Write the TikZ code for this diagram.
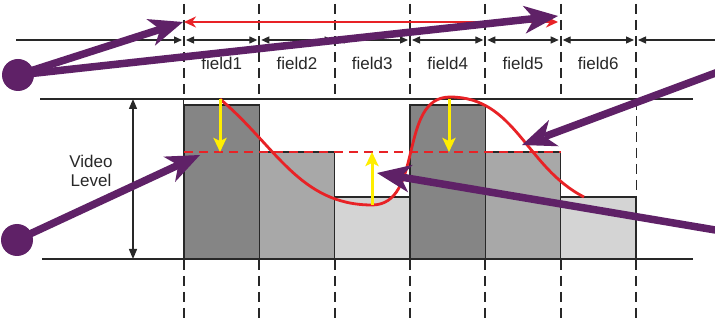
\documentclass[tikz,border=0pt]{standalone}
\usepackage{fontspec}
\setmainfont{Liberation Sans}
\usetikzlibrary{arrows.meta}

\definecolor{vlpurple}{RGB}{95,33,103}
\definecolor{vlred}{RGB}{232,34,38}
\definecolor{vlyellow}{RGB}{255,238,0}
\definecolor{bardark}{RGB}{133,133,133}
\definecolor{barmid}{RGB}{168,168,168}
\definecolor{barlight}{RGB}{212,212,212}
\definecolor{gridline}{RGB}{40,40,40}

\tikzset{
    dimtip/.tip={Triangle[length=8pt, width=7pt]},
    leveltip/.tip={Triangle[length=10pt, width=8pt]}
}

\begin{document}
\begin{tikzpicture}[
    x=1pt, y=1pt,
    fieldtext/.style={font=\fontsize{17}{19}\selectfont, text=gridline, inner sep=0pt, align=center},
    bar/.style={draw=gridline, line width=1.3pt},
    guide/.style={gridline, line width=1.7pt, dash pattern=on 10pt off 6pt},
    level/.style={gridline, line width=1.6pt},
    dim/.style={gridline, line width=1.3pt},
    yarrow/.style={vlyellow, line width=3pt, -{Stealth[length=14pt, width=13pt, inset=3pt]}},
    callout/.style={vlpurple, line width=7.5pt, -{Stealth[length=34pt, width=28pt, inset=10pt, line width=0pt]}},
    calloutdot/.style={circle, fill=vlpurple, minimum size=32pt, inner sep=0pt}
]
\useasboundingbox[fill=white] (0,0) rectangle (715,324);

% field edges on the dimension line
\coordinate (t0) at (184,284);
\coordinate (t1) at (259.3,284);
\coordinate (t2) at (334.7,284);
\coordinate (t3) at (410,284);
\coordinate (t4) at (485.3,284);
\coordinate (t5) at (560.7,284);
\coordinate (t6) at (636,284);
\coordinate (tl) at (16,284);
\coordinate (tr) at (715,284);

% dashed field boundaries
\draw[guide] (184,320) -- (184,4);
\draw[guide] (259.3,320) -- (259.3,4);
\draw[guide] (334.7,320) -- (334.7,4);
\draw[guide] (410,320) -- (410,4);
\draw[guide] (485.3,320) -- (485.3,4);
\draw[guide] (560.7,320) -- (560.7,4);
\draw[guide] (636,320) -- (636,4);

% video level bars
\fill[white] (184,225) rectangle (636,65);
\draw[bar, fill=bardark] (184,219) rectangle (259.3,65);
\draw[bar, fill=barmid] (259.3,172) rectangle (334.7,65);
\draw[bar, fill=barlight] (334.7,127) rectangle (410,65);
\draw[bar, fill=bardark] (410,219) rectangle (485.3,65);
\draw[bar, fill=barmid] (485.3,172) rectangle (560.7,65);
\draw[bar, fill=barlight] (560.7,127) rectangle (636,65);

\draw[level] (40,225) -- (693,225);
\draw[level] (42,65) -- (693,65);

% field widths
\draw[dim, -{dimtip}, shorten >=2pt] (tl) -- (t0);
\draw[dim, {dimtip}-{dimtip}, shorten >=2pt, shorten <=2pt] (t0) -- (t1);
\draw[dim, {dimtip}-{dimtip}, shorten >=2pt, shorten <=2pt] (t1) -- (t2);
\draw[dim, {dimtip}-{dimtip}, shorten >=2pt, shorten <=2pt] (t2) -- (t3);
\draw[dim, {dimtip}-{dimtip}, shorten >=2pt, shorten <=2pt] (t3) -- (t4);
\draw[dim, {dimtip}-{dimtip}, shorten >=2pt, shorten <=2pt] (t4) -- (t5);
\draw[dim, {dimtip}-{dimtip}, shorten >=2pt, shorten <=2pt] (t5) -- (t6);
\draw[dim, {dimtip}-, shorten <=2pt] (t6) -- (tr);

\node[fieldtext, anchor=base] (f1) at (221.7,254) {field1};
\node[fieldtext, anchor=base] (f2) at (297,254) {field2};
\node[fieldtext, anchor=base] (f3) at (372.3,254) {field3};
\node[fieldtext, anchor=base] (f4) at (447.7,254) {field4};
\node[fieldtext, anchor=base] (f5) at (523,254) {field5};
\node[fieldtext, anchor=base] (f6) at (598.3,254) {field6};

% video level range
\coordinate (lvtop) at (133,225);
\coordinate (lvbot) at (133,65);
\draw[dim, {leveltip}-{leveltip}] (lvtop) -- (lvbot);
\node[fieldtext] (videolevel) at (91,153) {Video\\Level};

% average level and signal
\draw[vlred, line width=2.8pt, dash pattern=on 9pt off 6pt] (184,172) -- (560.7,172);
\draw[vlred, line width=2.8pt] (220,225) to[out=-40, in=180] (372,119)
    to[out=0, in=180] (450,227) to[out=0, in=153] (584,127);

% deviations
\coordinate (y1a) at (220,225);
\coordinate (y1b) at (220,172);
\coordinate (y3a) at (372,119);
\coordinate (y3b) at (372,172);
\coordinate (y4a) at (449,225);
\coordinate (y4b) at (449,172);
\draw[yarrow] (y1a) -- (y1b);
\draw[yarrow] (y3a) -- (y3b);
\draw[yarrow] (y4a) -- (y4b);

% period
\coordinate (pstart) at (184,302);
\coordinate (pend) at (558,302);
\draw[vlred, line width=2.8pt, {Stealth[length=12pt, width=11pt]}-{Stealth[length=12pt, width=11pt]}] (pstart) -- (pend);

% callouts
\node[calloutdot] (dotA) at (18,249) {};
\node[calloutdot] (dotB) at (17,84) {};
\coordinate (cA1) at (183,302);
\coordinate (cA2) at (558,308);
\coordinate (cB) at (200,169);
\coordinate (cC) at (522,179);
\coordinate (cCfrom) at (745,262);
\coordinate (cD) at (377,151);
\coordinate (cDfrom) at (745,89);
\draw[callout] (dotA.center) -- (cA1);
\draw[callout] (dotA.center) -- (cA2);
\draw[callout] (dotB.center) -- (cB);
\draw[callout] (cCfrom) -- (cC);
\draw[callout] (cDfrom) -- (cD);

\end{tikzpicture}
\end{document}
